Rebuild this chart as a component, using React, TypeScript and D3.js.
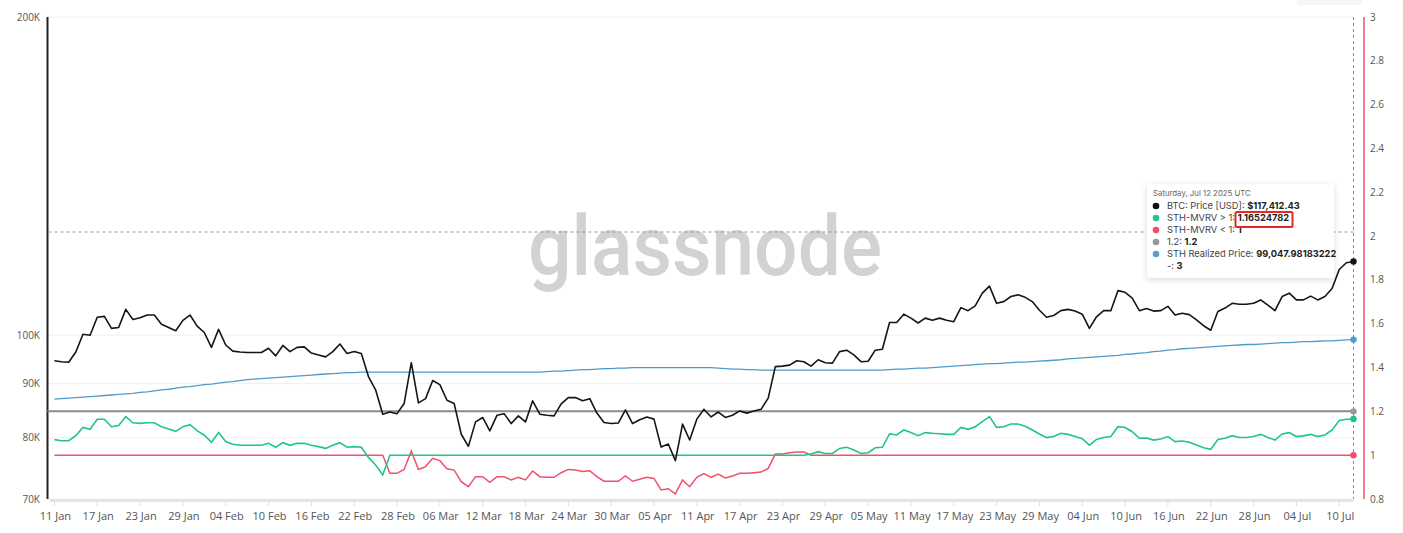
import React from "react";
import * as d3 from "d3";

const START = Date.UTC(2025, 0, 11);
const DAY = 86400000;

// BTC price, thousands USD, daily from 11 Jan 2025 to 12 Jul 2025
const btcPrice = [
  94.6, 94.4, 94.3, 96.4, 100.2, 100.0, 104.0, 104.2, 101.5, 101.7,
  105.8, 103.5, 103.9, 104.5, 104.5, 102.4, 101.7, 101.0, 103.3, 104.5,
  102.0, 100.6, 97.4, 101.3, 97.9, 96.6, 96.4, 96.3, 96.3, 96.3,
  97.2, 95.6, 97.8, 96.5, 97.4, 97.5, 96.2, 95.8, 95.4, 96.5,
  98.1, 96.1, 96.5, 96.1, 91.4, 88.8, 84.2, 84.6, 84.3, 86.2,
  94.2, 86.3, 87.1, 90.6, 89.8, 86.8, 86.2, 80.6, 78.5, 82.8,
  83.6, 81.2, 84.0, 84.3, 82.5, 83.9, 82.8, 86.7, 84.2, 84.0,
  83.9, 86.1, 87.3, 87.3, 86.7, 87.1, 84.4, 82.7, 82.5, 82.6,
  85.0, 82.5, 83.2, 83.7, 83.3, 78.4, 78.9, 76.1, 82.4, 79.6,
  83.3, 85.1, 83.7, 84.6, 83.6, 84.0, 84.8, 84.4, 84.8, 85.1,
  87.2, 93.4, 93.5, 93.7, 94.6, 94.4, 93.5, 94.8, 94.2, 94.1,
  96.5, 96.8, 95.8, 94.4, 94.5, 96.8, 97.0, 102.8, 102.8, 104.7,
  103.8, 102.7, 103.8, 103.3, 103.8, 103.3, 103.0, 106.2, 105.5, 106.6,
  109.6, 111.3, 107.2, 107.6, 108.8, 109.2, 108.6, 107.6, 105.6, 104.0,
  104.4, 105.5, 105.8, 105.4, 104.7, 101.5, 104.1, 105.5, 105.5, 110.2,
  109.8, 108.4, 105.5, 106.0, 105.4, 105.5, 106.5, 104.5, 104.9, 104.6,
  103.4, 102.1, 101.1, 105.3, 106.1, 107.2, 107.0, 107.0, 107.2, 108.0,
  106.8, 105.5, 108.8, 109.6, 108.0, 108.0, 108.9, 108.0, 108.8, 110.7,
  115.4, 117.1, 117.41,
];

// STH realized price, thousands USD
const sthRealized = [
  87.0, 87.1, 87.2, 87.3, 87.4, 87.5, 87.6, 87.7, 87.8, 87.9,
  88.0, 88.1, 88.3, 88.4, 88.6, 88.8, 88.9, 89.1, 89.3, 89.4,
  89.6, 89.8, 89.9, 90.1, 90.3, 90.4, 90.6, 90.8, 90.9, 91.0,
  91.1, 91.2, 91.3, 91.4, 91.5, 91.6, 91.7, 91.8, 91.9, 92.0,
  92.1, 92.2, 92.2, 92.3, 92.3, 92.3, 92.3, 92.3, 92.3, 92.3,
  92.3, 92.3, 92.3, 92.3, 92.3, 92.3, 92.3, 92.3, 92.3, 92.3,
  92.3, 92.3, 92.3, 92.3, 92.3, 92.3, 92.3, 92.3, 92.3, 92.4,
  92.5, 92.5, 92.6, 92.7, 92.8, 92.8, 92.9, 93.0, 93.0, 93.1,
  93.1, 93.2, 93.2, 93.2, 93.2, 93.2, 93.2, 93.2, 93.2, 93.2,
  93.2, 93.2, 93.2, 93.1, 93.0, 92.9, 92.9, 92.8, 92.8, 92.7,
  92.7, 92.7, 92.7, 92.7, 92.7, 92.7, 92.7, 92.7, 92.7, 92.7,
  92.7, 92.7, 92.7, 92.7, 92.7, 92.7, 92.7, 92.8, 92.9, 92.9,
  93.0, 93.1, 93.1, 93.2, 93.3, 93.4, 93.5, 93.6, 93.7, 93.8,
  93.9, 94.0, 94.0, 94.1, 94.2, 94.3, 94.3, 94.4, 94.5, 94.6,
  94.7, 94.8, 95.0, 95.1, 95.2, 95.3, 95.4, 95.5, 95.6, 95.7,
  95.9, 96.0, 96.2, 96.3, 96.5, 96.6, 96.8, 96.9, 97.1, 97.2,
  97.3, 97.4, 97.5, 97.6, 97.7, 97.8, 97.9, 98.0, 98.0, 98.1,
  98.2, 98.3, 98.4, 98.4, 98.5, 98.6, 98.6, 98.7, 98.8, 98.8,
  98.9, 99.0, 99.05,
];

// STH-MVRV > 1 series (right axis)
const mvrvAbove = [
  1.071, 1.066, 1.066, 1.089, 1.127, 1.118, 1.164, 1.164, 1.130, 1.135,
  1.176, 1.148, 1.145, 1.148, 1.148, 1.130, 1.119, 1.109, 1.130, 1.139,
  1.112, 1.091, 1.059, 1.103, 1.062, 1.050, 1.045, 1.045, 1.045, 1.045,
  1.054, 1.036, 1.057, 1.045, 1.054, 1.054, 1.045, 1.039, 1.031, 1.045,
  1.057, 1.036, 1.039, 1.036, 0.990, 0.955, 0.910, 1, 1, 1,
  1, 1, 1, 1, 1, 1, 1, 1, 1, 1,
  1, 1, 1, 1, 1, 1, 1, 1, 1, 1,
  1, 1, 1, 1, 1, 1, 1, 1, 1, 1,
  1, 1, 1, 1, 1, 1, 1, 1, 1, 1,
  1, 1, 1, 1, 1, 1, 1, 1, 1, 1,
  1, 1, 1, 1, 1, 1, 1.005, 1.016, 1.008, 1.008,
  1.031, 1.036, 1.024, 1.008, 1.011, 1.034, 1.036, 1.097, 1.092, 1.115,
  1.103, 1.089, 1.103, 1.100, 1.098, 1.095, 1.095, 1.127, 1.118, 1.130,
  1.153, 1.176, 1.127, 1.130, 1.142, 1.142, 1.132, 1.115, 1.097, 1.080,
  1.085, 1.100, 1.095, 1.085, 1.075, 1.046, 1.072, 1.081, 1.085, 1.130,
  1.126, 1.107, 1.077, 1.078, 1.069, 1.074, 1.085, 1.062, 1.065, 1.059,
  1.046, 1.034, 1.027, 1.072, 1.077, 1.089, 1.081, 1.081, 1.085, 1.095,
  1.081, 1.069, 1.097, 1.103, 1.085, 1.088, 1.095, 1.085, 1.092, 1.115,
  1.158, 1.164, 1.165,
];

// STH-MVRV < 1 series (right axis)
const mvrvBelow = [
  1, 1, 1, 1, 1, 1, 1, 1, 1, 1,
  1, 1, 1, 1, 1, 1, 1, 1, 1, 1,
  1, 1, 1, 1, 1, 1, 1, 1, 1, 1,
  1, 1, 1, 1, 1, 1, 1, 1, 1, 1,
  1, 1, 1, 1, 1, 1, 1, 0.917, 0.917, 0.935,
  1.019, 0.935, 0.948, 0.986, 0.975, 0.938, 0.932, 0.879, 0.856, 0.902,
  0.902, 0.876, 0.902, 0.902, 0.887, 0.899, 0.887, 0.928, 0.902, 0.899,
  0.899, 0.920, 0.935, 0.932, 0.926, 0.929, 0.902, 0.881, 0.881, 0.881,
  0.905, 0.881, 0.890, 0.899, 0.894, 0.841, 0.847, 0.823, 0.887, 0.856,
  0.899, 0.916, 0.899, 0.914, 0.896, 0.905, 0.917, 0.917, 0.920, 0.923,
  0.940, 1.005, 1.005, 1.011, 1.014, 1.014, 1, 1, 1, 1,
  1, 1, 1, 1, 1, 1, 1, 1, 1, 1,
  1, 1, 1, 1, 1, 1, 1, 1, 1, 1,
  1, 1, 1, 1, 1, 1, 1, 1, 1, 1,
  1, 1, 1, 1, 1, 1, 1, 1, 1, 1,
  1, 1, 1, 1, 1, 1, 1, 1, 1, 1,
  1, 1, 1, 1, 1, 1, 1, 1, 1, 1,
  1, 1, 1, 1, 1, 1, 1, 1, 1, 1,
  1, 1, 1,
];

const THRESHOLD = 1.2;

const xTickLabels = [
  "11 Jan", "17 Jan", "23 Jan", "29 Jan", "04 Feb", "10 Feb", "16 Feb", "22 Feb",
  "28 Feb", "06 Mar", "12 Mar", "18 Mar", "24 Mar", "30 Mar", "05 Apr", "11 Apr",
  "17 Apr", "23 Apr", "29 Apr", "05 May", "11 May", "17 May", "23 May", "29 May",
  "04 Jun", "10 Jun", "16 Jun", "22 Jun", "28 Jun", "04 Jul", "10 Jul",
];
const leftTicks = [70, 80, 90, 100, 200];
const leftTickLabels = ["70K", "80K", "90K", "100K", "200K"];
const rightTicks = [0.8, 1, 1.2, 1.4, 1.6, 1.8, 2, 2.2, 2.4, 2.6, 2.8, 3];
const rightTickLabels = ["0.8", "1", "1.2", "1.4", "1.6", "1.8", "2", "2.2", "2.4", "2.6", "2.8", "3"];

const tooltipRows = [
  { color: "#111111", label: "BTC: Price [USD]: ", value: "$117,412.43" },
  { color: "#1fc685", label: "STH-MVRV > 1: ", value: "1.16524782" },
  { color: "#f0506e", label: "STH-MVRV < 1: ", value: "1" },
  { color: "#999999", label: "1.2: ", value: "1.2" },
  { color: "#5a9ec9", label: "STH Realized Price: ", value: "99,047.98183222" },
  { color: null, label: "-: ", value: "3" },
];

const C_BLACK = "#151515";
const C_GREEN = "#1fc685";
const C_RED = "#f0506e";
const C_GRAY = "#8c8c8c";
const C_BLUE = "#4e9bca";

export default function App() {
  const W = 1403;
  const H = 533;
  const xStart = 54.4;
  const xEnd = 1353.5;
  const yTop = 17;
  const yBot = 499;
  const axisL = 47.5;
  const axisR = 1364;

  const dates = btcPrice.map((_, i) => new Date(START + i * DAY));
  const x = d3.scaleUtc().domain([dates[0], dates[dates.length - 1]]).range([xStart, xEnd]);
  const yL = d3.scaleLog().domain([70, 200]).range([yBot, yTop]);
  const yR = d3.scaleLinear().domain([0.8, 3]).range([yBot, yTop]);

  const mk = (arr: number[], scale: (v: number) => number) =>
    d3.line<number>().x((_, i) => x(dates[i])).y((d) => scale(d)).curve(d3.curveLinear)(arr) || "";

  const last = dates.length - 1;
  const xl = x(dates[last]);
  const font = "'Open Sans', 'Noto Sans', sans-serif";
  const ttFont = "Inter, 'Noto Sans', sans-serif";

  const ttX = 1147;
  const ttY = 184;

  return (
    <svg
      width={W}
      height={H}
      style={{ position: "absolute", left: 0, top: 0, background: "#fff" }}
    >
      <defs>
        <filter id="shadow" x="-20%" y="-20%" width="140%" height="150%">
          <feDropShadow dx="0" dy="2" stdDeviation="3" floodColor="#000" floodOpacity="0.14" />
        </filter>
      </defs>
      <rect x={0} y={0} width={W} height={H} fill="#fff" />
      <rect x={1297} y={0} width={65} height={5} fill="#f6f6f6" />

      {/* grid lines */}
      {leftTicks.map((t, i) => (
        <line key={"g" + i} x1={axisL} x2={xEnd} y1={yL(t)} y2={yL(t)} stroke="#f0f0f0" strokeWidth={1} />
      ))}

      {/* watermark */}
      <text
        x={705}
        y={275}
        textAnchor="middle"
        fontFamily="Roboto, Lato, sans-serif"
        fontWeight={500}
        fontSize={84}
        fill="#d2d2d2"
        textLength={354}
        lengthAdjust="spacingAndGlyphs"
      >
        glassnode
      </text>

      {/* x axis baseline */}
      <line x1={axisL + 2} x2={xEnd} y1={yBot + 1.5} y2={yBot + 1.5} stroke="#e0e0e0" strokeWidth={2.5} />
      {xTickLabels.map((lab, k) => {
        const d = new Date(START + k * 6 * DAY);
        const px = x(d);
        return (
          <g key={"xt" + k}>
            <line x1={px} x2={px} y1={yBot + 2} y2={yBot + 7} stroke="#dddddd" strokeWidth={1} />
            <text x={px + 1} y={520} textAnchor="middle" fontFamily={font} fontSize={11} fill="#555">
              {lab}
            </text>
          </g>
        );
      })}

      {/* left axis */}
      <line x1={axisL} x2={axisL} y1={yTop} y2={yBot} stroke="#222" strokeWidth={2} />
      {leftTicks.map((t, i) => (
        <text key={"lt" + i} x={40} y={yL(t) + 3.5} textAnchor="end" fontFamily={font} fontSize={10} fill="#555">
          {leftTickLabels[i]}
        </text>
      ))}

      {/* right axis */}
      <line x1={axisR} x2={axisR} y1={yTop} y2={yBot} stroke={C_RED} strokeWidth={1.5} />
      {rightTicks.map((t, i) => (
        <text key={"rt" + i} x={1370} y={yR(t) + 3.5} textAnchor="start" fontFamily={font} fontSize={10} fill="#555">
          {rightTickLabels[i]}
        </text>
      ))}

      {/* crosshair */}
      <line x1={axisL + 1} x2={xl} y1={232} y2={232} stroke="#8a9a9a" strokeWidth={1} strokeDasharray="3,3" />
      <line x1={xl} x2={xl} y1={yTop} y2={yBot} stroke="#888" strokeWidth={1} strokeDasharray="3,3" />

      {/* threshold 1.2 */}
      <line x1={xStart - 7} x2={xl} y1={yR(THRESHOLD)} y2={yR(THRESHOLD)} stroke={C_GRAY} strokeWidth={2} />

      {/* series */}
      <path d={mk(mvrvBelow, yR)} fill="none" stroke={C_RED} strokeWidth={1.5} />
      <path d={mk(mvrvAbove, yR)} fill="none" stroke={C_GREEN} strokeWidth={1.6} />
      <path d={mk(sthRealized, yL)} fill="none" stroke={C_BLUE} strokeWidth={1.3} />
      <path d={mk(btcPrice, yL)} fill="none" stroke={C_BLACK} strokeWidth={1.6} strokeLinejoin="round" />

      {/* end markers */}
      <circle cx={xl} cy={yL(btcPrice[last])} r={3.2} fill={C_BLACK} />
      <circle cx={xl} cy={yL(sthRealized[last])} r={3.2} fill={C_BLUE} />
      <circle cx={xl} cy={yR(THRESHOLD)} r={3.2} fill="#999" />
      <circle cx={xl} cy={yR(mvrvAbove[last])} r={3.2} fill={C_GREEN} />
      <circle cx={xl} cy={yR(mvrvBelow[last])} r={3.2} fill={C_RED} />

      {/* tooltip */}
      <g>
        <rect x={ttX} y={ttY} width={187} height={94} rx={3} fill="#fff" filter="url(#shadow)" />
        <text x={ttX + 6} y={ttY + 12} fontFamily={ttFont} fontSize={7.8} fill="#666">
          Saturday, Jul 12 2025 UTC
        </text>
        {tooltipRows.map((r, i) => {
          const cy = ttY + 22 + i * 12;
          return (
            <g key={"tt" + i}>
              {r.color && <circle cx={ttX + 9} cy={cy} r={3.3} fill={r.color} />}
              <text x={ttX + 20} y={cy + 3.3} fontFamily={ttFont} fontSize={9.3} fill="#444">
                {r.label}
                <tspan fontWeight={700} fill="#222">{r.value}</tspan>
              </text>
            </g>
          );
        })}
        <rect x={1235.5} y={212} width={57} height={15} rx={1.5} fill="none" stroke="#e8281f" strokeWidth={2} />
      </g>
    </svg>
  );
}
